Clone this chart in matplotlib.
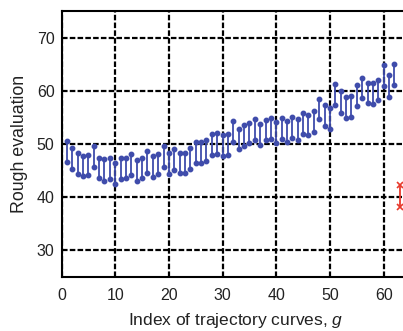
import numpy as np
import matplotlib
matplotlib.use('Agg')
import matplotlib.pyplot as plt

plt.rcParams['font.family'] = ['Liberation Sans', 'DejaVu Sans']
plt.rcParams['mathtext.fontset'] = 'custom'
plt.rcParams['mathtext.it'] = 'Liberation Sans:italic'
plt.rcParams['mathtext.rm'] = 'Liberation Sans'

# indeks kurva trajektori
g = np.arange(1, 63)
upper = [50.5, 49.2, 48.3, 47.8, 48.0, 49.7, 47.4, 47.1, 47.3, 46.4,
         47.3, 47.4, 48.1, 47.0, 47.4, 48.6, 47.7, 48.2, 49.6, 48.3,
         49.1, 48.4, 48.4, 49.3, 50.4, 50.4, 50.7, 51.9, 52.1, 51.6,
         51.9, 54.3, 52.9, 53.6, 54.0, 54.7, 53.8, 54.6, 54.9, 54.2,
         54.9, 54.3, 55.0, 54.7, 55.9, 55.5, 56.2, 58.5, 57.4, 56.7,
         61.3, 60.0, 58.9, 59.0, 61.1, 62.5, 61.5, 61.5, 62.0, 64.8,
         62.9, 65.0]
lower = [46.7, 45.3, 44.4, 43.9, 44.1, 45.7, 43.6, 43.1, 43.4, 42.4,
         43.4, 43.6, 44.2, 43.1, 43.6, 44.6, 43.8, 44.3, 45.6, 44.4,
         45.1, 44.6, 44.6, 45.3, 46.5, 46.5, 46.8, 48.0, 48.1, 47.7,
         48.0, 50.4, 49.1, 49.7, 50.1, 50.7, 49.9, 50.7, 50.9, 50.2,
         50.9, 50.4, 51.1, 50.7, 51.9, 51.6, 52.2, 54.7, 53.4, 52.8,
         57.3, 55.9, 54.9, 55.1, 57.1, 58.7, 57.7, 57.5, 58.2, 60.9,
         58.9, 61.0]

# kurva terpilih (merah)
g_sel = [63]
upper_sel = [42.3]
lower_sel = [38.1]

xticks = [0, 10, 20, 30, 40, 50, 60]
yticks = [30, 40, 50, 60, 70]

blue = '#3f4cab'
red = '#e8392c'
txt = '#222222'

fig = plt.figure(figsize=(4.03, 3.31), dpi=100)
ax = fig.add_axes([61.5 / 403, 54 / 331, 349 / 403, 266 / 331])

ax.vlines(g, lower, upper, color=blue, lw=1.3, zorder=3)
ax.plot(g, upper, 'o', color=blue, ms=3.2, zorder=4)
ax.plot(g, lower, 'o', color=blue, ms=3.2, zorder=4)

ax.vlines(g_sel, lower_sel, upper_sel, color=red, lw=1.3, zorder=3)
ax.plot(g_sel, upper_sel, 'x', color=red, ms=4.5, mew=1.2, zorder=4)
ax.plot(g_sel, lower_sel, 'x', color=red, ms=4.5, mew=1.2, zorder=4)

ax.set_xlim(0, 65)
ax.set_ylim(25, 75)
ax.set_xticks(xticks)
ax.set_yticks(yticks)
ax.grid(True, color='k', lw=1.6, linestyle=(0, (2.5, 1.0)))
ax.tick_params(direction='in', length=0, labelsize=11.5, labelcolor=txt)
ax.tick_params(axis='x', pad=8)
ax.tick_params(axis='y', pad=5)
for s in ax.spines.values():
    s.set_linewidth(1.5)

ax.set_xlabel('Index of trajectory curves, $g$', fontsize=12.5, color=txt, labelpad=6)
ax.set_ylabel('Rough evaluation', fontsize=12.8, color=txt, labelpad=6)

plt.savefig('out.png', dpi=100)
